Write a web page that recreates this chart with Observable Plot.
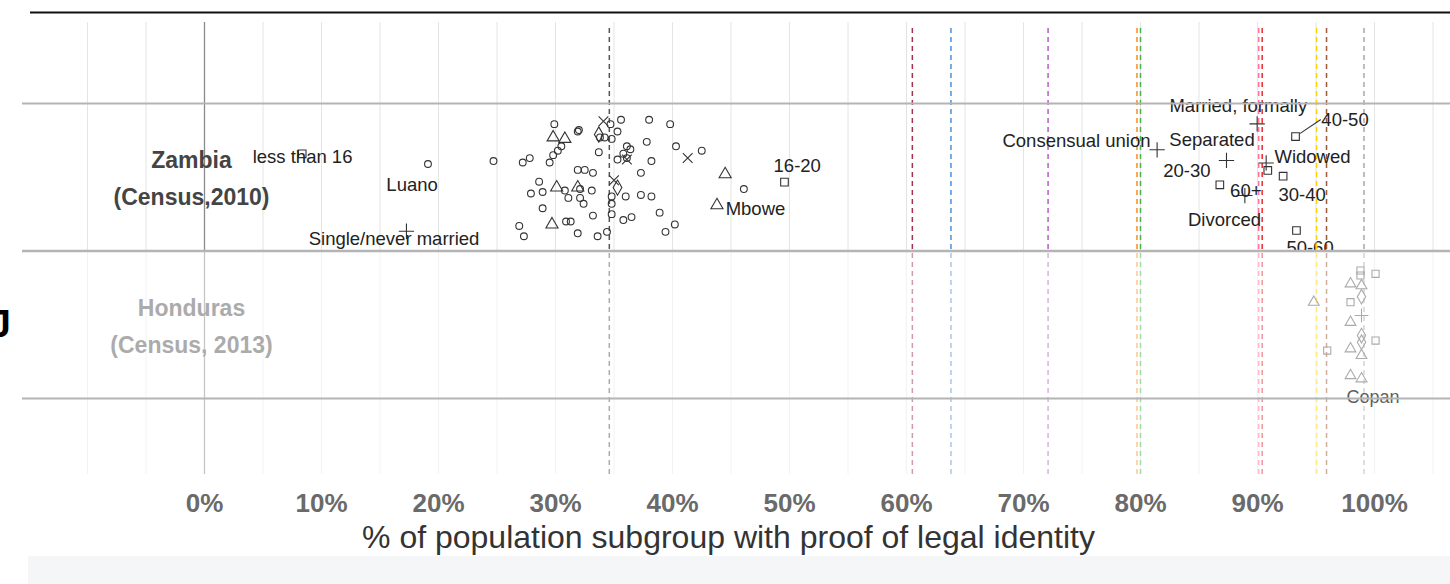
<!DOCTYPE html>
<html><head><meta charset="utf-8">
<script src="https://cdn.jsdelivr.net/npm/d3@7"></script>
<script src="https://cdn.jsdelivr.net/npm/@observablehq/plot@0.6"></script>
<style>body{margin:0;background:#fff;overflow:hidden}</style>
</head><body><div id="chart"></div>
<script>
// ---- data (x = % with proof of legal identity, y = position within the country band) ----
const zCircleX = [24.7,27.2,27.8,29.5,29.9,31.9,32.0,28.6,27.9,28.9,28.9,26.9,27.3,30.8,31.1,32.1,32.1,32.4,31.9,32.5,33.2,33.1,33.2,30.9,31.3,31.9,33.6,34.4,33.7,33.8,34.2,34.7,34.8,35.3,35.6,35.3,35.8,36.1,36.4,36.1,34.8,34.8,34.8,36.0,37.3,37.3,38.2,38.2,37.8,38.0,39.8,40.3,42.5,35.8,36.5,38.9,39.4,40.2,46.1,19.1,29.8,30.2,30.5];
const zCircleY = [2.61,2.60,2.63,2.60,2.86,2.81,2.82,2.47,2.39,2.40,2.29,2.17,2.10,2.41,2.36,2.42,2.36,2.32,2.55,2.55,2.53,2.41,2.24,2.20,2.20,2.12,2.10,2.13,2.67,2.77,2.77,2.86,2.76,2.81,2.89,2.62,2.66,2.71,2.69,2.63,2.37,2.32,2.25,2.37,2.53,2.38,2.37,2.61,2.74,2.89,2.86,2.71,2.68,2.21,2.23,2.26,2.13,2.18,2.42,2.59,2.65,2.68,2.71];
const zTriX = [29.8,30.8,30.1,31.9,29.7,44.5,43.8];
const zTriY = [2.77,2.76,2.43,2.43,2.18,2.52,2.31];
const zTimesX = [34.1,36.1,41.3,35.0];
const zTimesY = [2.88,2.62,2.63,2.48];
const zDiamondX = [33.7,35.3];
const zDiamondY = [2.79,2.43];
const zSquareX = [8.35,49.57,93.25,90.88,92.19,86.78,93.33];
const zSquareY = [2.659,2.467,2.776,2.546,2.507,2.449,2.139];
const zPlusX = [17.26,81.42,87.35,89.97,90.74,88.92];
const zPlusY = [2.134,2.686,2.614,2.862,2.597,2.376];

const hTriX = [94.81,97.95,97.95,97.95,97.95,98.89,98.89,98.89];
const hTriY = [1.653,1.778,1.517,1.337,1.156,1.134,1.292,1.765];
const hSquareX = [95.96,97.95,100.09,100.09,98.8,98.8];
const hSquareY = [1.325,1.653,1.845,1.393,1.868,1.834];
const hDiamondX = [98.89,98.89,98.89];
const hDiamondY = [1.69,1.427,1.382];
const hPlusX = [98.89];
const hPlusY = [1.563];

const labelText = ["less than 16","Luano","Single/never married","16-20","Mbowe","Consensual union","Separated","Married, formally","40-50","Widowed","30-40","20-30","60+","Divorced"];
const labelX = [8.38,17.74,16.2,50.66,47.09,74.53,86.11,88.36,97.48,94.7,93.82,83.96,89.0,87.18];
const labelY = [2.634,2.444,2.078,2.573,2.286,2.742,2.754,2.98,2.885,2.64,2.376,2.541,2.403,2.207];
const clippedLabel = ["50-60"]; const clippedX = [94.49]; const clippedY = [2.017];
const hLabel = ["Copan"]; const hLabelX = [99.87]; const hLabelY = [1.009];

const leaderX = [93.68,95.38]; const leaderY = [2.799,2.890];

const refX = [34.6,60.5,63.8,72.1,79.7,80.0,90.1,90.4,95.05,95.9,99.1];
const refColor = ["#555555","#a3324f","#4a90d9","#b55fc4","#ff8a1c","#49b04a","#ff6fa0","#ee2a2a","#ffd400","#a0583a","#a8a8a8"];

const countries = ["Zambia","(Census,2010)","Honduras","(Census, 2013)"];
const countryY = [2.61,2.36,1.61,1.36];
const bandLines = [3,2,1];
const gridX = d3.range(-10,106,5);
const tickValues = d3.range(0,101,10);
const tickLabels = tickValues.map(v => v + "%");
const axisTitle = "% of population subgroup with proof of legal identity";

// ---- chart ----
const F = "'Liberation Sans', Arial, sans-serif";
const pts = (xs, ys) => xs.map((x,i) => ({x, y: ys[i]}));
const lbl = (ts, xs, ys) => ts.map((t,i) => ({t, x: xs[i], y: ys[i]}));
const PX = 11.7, X0 = 204;
const xAt = px => (px - X0) / PX;                    // pixel -> % helper for frame pieces
const yAt = py => 1 + (398 - py) / 147.5;
const LEFT = xAt(22), RIGHT = xAt(1450);

const dotOpts = (sym, r, stroke) => ({x:"x", y:"y", symbol: sym, r, fill:"none", stroke, strokeWidth:1.1});

const chart = Plot.plot({
  width:1450, height:584,
  marginTop:0, marginRight:0, marginBottom:0, marginLeft:0,
  x:{domain:[xAt(0), xAt(1450)], axis:null},
  y:{domain:[yAt(584), yAt(0)], axis:null},
  style:{fontFamily:F, background:"#fff", overflow:"visible"},
  marks:[
    // bottom grey strip
    Plot.rect([{x1:xAt(28), x2:RIGHT, y1:yAt(556), y2:yAt(584)}], {x1:"x1", x2:"x2", y1:"y1", y2:"y2", fill:"#f5f6f8"}),
    // clipped label (covered below the band line)
    Plot.text(lbl(clippedLabel, clippedX, clippedY), {x:"x", y:"y", text:"t", fontSize:18.5, fill:"#222"}),
    Plot.rect([{x1:xAt(1284), x2:xAt(1336), y1:yAt(250), y2:yAt(266)}], {x1:"x1", x2:"x2", y1:"y1", y2:"y2", fill:"#fff"}),
    // grid
    Plot.ruleX(gridX.filter(d => d !== 0), {y1:yAt(474), y2:yAt(22), stroke:"#e4e4e4", strokeWidth:1}),
    Plot.ruleX([0], {y1:yAt(474), y2:yAt(22), stroke:"#8a8a8a", strokeWidth:1.3}),
    // reference dashed lines
    ...refX.map((v,i) => Plot.ruleX([v], {y1:yAt(474), y2:yAt(24), stroke:refColor[i], strokeWidth:1.5, strokeDasharray:"5,4"})),
    // Zambia points
    Plot.dot(pts(zCircleX, zCircleY), dotOpts("circle", 3.4, "#333")),
    Plot.dot(pts(zTriX, zTriY), dotOpts("triangle", 4.5, "#333")),
    Plot.dot(pts(zTimesX, zTimesY), dotOpts("times", 4.5, "#333")),
    Plot.dot(pts(zDiamondX, zDiamondY), dotOpts("diamond", 4.6, "#333")),
    Plot.dot(pts(zSquareX, zSquareY), dotOpts("square", 4.3, "#333")),
    Plot.dot(pts(zPlusX, zPlusY), dotOpts("plus", 5, "#333")),
    Plot.line(pts(leaderX, leaderY), {x:"x", y:"y", stroke:"#333", strokeWidth:1.1}),
    Plot.text(lbl(labelText, labelX, labelY), {x:"x", y:"y", text:"t", fontSize:18.5, fill:"#222"}),
    // Honduras points
    Plot.dot(pts(hTriX, hTriY), dotOpts("triangle", 4.0, "#555")),
    Plot.dot(pts(hSquareX, hSquareY), dotOpts("square", 4.0, "#555")),
    Plot.dot(pts(hDiamondX, hDiamondY), dotOpts("diamond", 4.4, "#555")),
    Plot.dot(pts(hPlusX, hPlusY), dotOpts("plus", 4.5, "#555")),
    // wash over the lower part
    Plot.rect([{x1:LEFT, x2:RIGHT, y1:yAt(251), y2:yAt(480)}], {x1:"x1", x2:"x2", y1:"y1", y2:"y2", fill:"#fff", fillOpacity:0.5}),
    Plot.text(lbl(hLabel, hLabelX, hLabelY), {x:"x", y:"y", text:"t", fontSize:18, fill:"#5e5e5e"}),
    // band lines
    Plot.ruleY(bandLines, {x1:LEFT, x2:RIGHT, stroke:"#b4b4b4", strokeWidth:(d) => d === 2 ? 2.6 : 2}),
    // top border
    Plot.ruleY([yAt(12)], {x1:xAt(30), x2:RIGHT, stroke:"#111", strokeWidth:2}),
    // country labels
    Plot.text(lbl(countries, [xAt(191),xAt(191),xAt(191),xAt(191)], countryY), {x:"x", y:"y", text:"t", fontSize:23, fontWeight:"bold", fill:(d,i) => i < 2 ? "#444" : "#ababab"}),
    // clipped glyph at the left edge
    Plot.text([{t:"J"}], {x:xAt(10.5), y:yAt(336), text:"t", textAnchor:"end", lineAnchor:"bottom", fontSize:38, fontWeight:"bold", fill:"#000"}),
    // x tick labels & axis title
    Plot.text(tickValues.map((v,i) => ({x:v, t:tickLabels[i]})), {x:"x", y:yAt(503), text:"t", fontSize:26, fontWeight:"bold", fill:"#6a6a6a"}),
    Plot.text([{t:axisTitle}], {x:xAt(728), y:yAt(537), text:"t", fontSize:32, fill:"#333"})
  ]
});
document.getElementById("chart").append(chart);
</script>
</body></html>
